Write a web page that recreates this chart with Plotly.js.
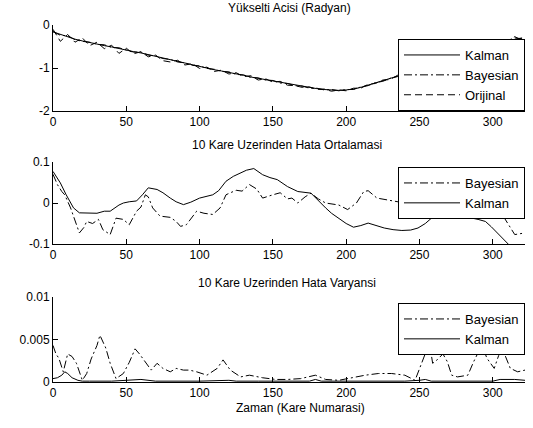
<!DOCTYPE html>
<html>
<head>
<meta charset="utf-8">
<script src="https://cdn.plot.ly/plotly-3.0.1.min.js"></script>
<style>html,body{margin:0;padding:0;background:#fff;}#chart{width:533px;height:428px;}</style>
</head>
<body>
<div id="chart"></div>
<script>
// ---------- Subplot 1: Yükselti Acisi (Radyan) ----------
var frames1 = [0,5,10,15,20,25,30,35,40,45,50,55,60,65,70,75,80,85,90,95,100,105,110,115,120,125,130,135,140,145,150,155,160,165,170,175,180,185,190,195,200,205,210,215,220,225,230,235,240,245,250,255,260,265,270,275,280,285,290,295,300,305,310,315,320];
var kalman1 = [-0.16,-0.22,-0.28,-0.33,-0.37,-0.41,-0.44,-0.48,-0.51,-0.55,-0.58,-0.62,-0.65,-0.69,-0.73,-0.77,-0.81,-0.85,-0.89,-0.93,-0.96,-1.00,-1.04,-1.07,-1.10,-1.14,-1.17,-1.21,-1.24,-1.27,-1.30,-1.34,-1.37,-1.40,-1.43,-1.46,-1.48,-1.50,-1.51,-1.52,-1.51,-1.49,-1.45,-1.40,-1.35,-1.30,-1.25,-1.19,-1.13,-1.07,-1.01,-0.95,-0.89,-0.83,-0.77,-0.71,-0.65,-0.60,-0.55,-0.50,-0.45,-0.41,-0.37,-0.33,-0.30];
var bayes1 = [-0.15,-0.24,-0.25,-0.34,-0.38,-0.40,-0.45,-0.46,-0.52,-0.53,-0.58,-0.63,-0.63,-0.70,-0.72,-0.78,-0.80,-0.86,-0.88,-0.94,-0.95,-1.01,-1.03,-1.08,-1.09,-1.15,-1.16,-1.22,-1.23,-1.28,-1.29,-1.35,-1.36,-1.41,-1.42,-1.47,-1.47,-1.51,-1.50,-1.53,-1.50,-1.50,-1.44,-1.41,-1.34,-1.31,-1.24,-1.20,-1.12,-1.08,-1.00,-0.96,-0.88,-0.84,-0.76,-0.72,-0.64,-0.61,-0.54,-0.51,-0.44,-0.42,-0.36,-0.30,-0.32];
var orig1 = [-0.10,-0.38,-0.22,-0.40,-0.30,-0.48,-0.40,-0.55,-0.47,-0.66,-0.54,-0.67,-0.62,-0.74,-0.70,-0.83,-0.86,-0.82,-0.93,-0.90,-1.01,-0.98,-1.08,-1.05,-1.14,-1.11,-1.20,-1.18,-1.28,-1.25,-1.33,-1.31,-1.40,-1.41,-1.45,-1.44,-1.50,-1.49,-1.54,-1.51,-1.53,-1.47,-1.47,-1.38,-1.36,-1.28,-1.27,-1.17,-1.15,-1.05,-1.03,-0.93,-0.91,-0.81,-0.79,-0.69,-0.67,-0.58,-0.57,-0.48,-0.47,-0.39,-0.40,-0.27,-0.36];

// ---------- Subplot 2: 10 Kare Uzerinden Hata Ortalamasi ----------
var kalX2 = [0,5,9,14,18,27,30,35,39,45,48,52,57,61,65,71,75,80,84,89,94,100,109,113,118,123,128,132,137,143,148,153,160,167,176,181,186,190,195,200,205,210,215,220,226,232,238,244,249,254,258,262,267,271,276,281,286,290,295,299,304,307,311,316,322];
var kalY2 = [0.077,0.049,0.02,-0.012,-0.024,-0.024,-0.025,-0.02,-0.02,-0.005,0.0,0.003,0.005,0.02,0.037,0.033,0.025,0.012,0.003,-0.004,0.002,0.012,0.02,0.03,0.053,0.065,0.073,0.08,0.084,0.069,0.062,0.057,0.04,0.028,0.024,0.005,-0.012,-0.025,-0.037,-0.05,-0.059,-0.055,-0.049,-0.055,-0.061,-0.065,-0.067,-0.066,-0.061,-0.05,-0.037,-0.025,-0.02,-0.022,-0.028,-0.033,-0.037,-0.04,-0.045,-0.058,-0.077,-0.09,-0.105,-0.12,-0.13];
var bayX2 = [0,3,6,8,12,15,18,21,23,27,31,34,39,43,48,52,57,60,63,65,68,73,80,84,87,91,95,98,103,109,114,118,121,125,129,134,139,143,150,155,160,163,167,172,176,181,186,195,201,207,212,215,221,225,232,240,249,258,268,280,292,300,308,315,322];
var bayY2 = [0.07,0.045,0.028,0.02,-0.012,-0.04,-0.073,-0.06,-0.045,-0.05,-0.04,-0.065,-0.077,-0.037,-0.04,-0.053,-0.02,-0.01,0.02,0.015,-0.012,-0.032,-0.035,-0.045,-0.057,-0.053,-0.035,-0.02,-0.025,-0.028,-0.012,0.02,0.025,0.031,0.029,0.045,0.034,0.012,0.02,0.025,0.01,0.012,0.0,0.015,0.024,0.01,0.0,-0.005,-0.016,0.0,0.028,0.03,0.012,0.01,0.005,0.0,-0.03,0.005,0.02,0.015,0.005,0.0,-0.037,-0.077,-0.073];

// ---------- Subplot 3: 10 Kare Uzerinden Hata Varyansi ----------
var bayX3 = [0,2,4,7,10,13,16,20,23,26,30,32,36,39,43,48,52,56,59,64,67,71,75,80,84,89,93,98,105,112,116,121,128,134,143,152,160,169,179,186,195,204,213,222,231,240,247,251,255,257,259,262,266,269,272,276,283,287,291,293,296,301,304,306,308,312,317,322];
var bayY3 = [0.0043,0.0033,0.0028,0.0012,0.0033,0.003,0.0022,0.0002,0.001,0.0027,0.0043,0.0055,0.004,0.0022,0.0004,0.001,0.0023,0.0039,0.0033,0.0022,0.0014,0.0022,0.0016,0.0012,0.0016,0.0014,0.0014,0.0012,0.0008,0.0016,0.0026,0.0014,0.0006,0.0008,0.0005,0.0003,0.0003,0.0004,0.0008,0.0003,0.0002,0.0005,0.0008,0.001,0.001,0.0008,0.0002,0.002,0.0038,0.0044,0.0022,0.0026,0.0033,0.0024,0.0008,0.0006,0.0008,0.0024,0.0038,0.0042,0.0028,0.0016,0.0031,0.0037,0.0033,0.0016,0.0012,0.0014];
var kalX3 = [0,3,6,8,10,13,17,20,25,40,50,60,70,80,100,120,125,140,160,175,179,183,200,220,240,250,254,258,270,290,300,305,315,322];
var kalY3 = [0.0004,0.0005,0.0008,0.0012,0.001,0.0005,0.0002,0.0001,0.0001,0.0001,0.0002,0.0003,0.0001,0.0001,0.0001,0.0002,0.0001,0.0001,0.0001,0.0001,0.0003,0.0001,0.0001,0.0001,0.0001,0.0002,0.0003,0.0001,0.0001,0.0001,0.0001,0.0003,0.0003,0.0002];

// ---------- Text ----------
var titles = ["Yükselti Acisi (Radyan)", "10 Kare Uzerinden Hata Ortalamasi", "10 Kare Uzerinden Hata Varyansi"];
var xTitle = "Zaman (Kare Numarasi)";
var xTicks = [0,50,100,150,200,250,300];
var yTicks1 = [0,-1,-2], yTickText1 = ["0","-1","-2"];
var yTicks2 = [0.1,0,-0.1], yTickText2 = ["0.1","0","-0.1"];
var yTicks3 = [0.01,0.005,0], yTickText3 = ["0.01","0.005","0"];

var FONT = "Liberation Sans, Arial, Helvetica, sans-serif";
var DASH = "7px,4px";
var DASHDOT = "8px,3px,2px,3px";

function ln(dash){ return {color:"#000", width:1, dash:dash}; }

var traces = [
  {x:frames1, y:kalman1, name:"Kalman", mode:"lines", line:ln("solid"), xaxis:"x", yaxis:"y", legend:"legend"},
  {x:frames1, y:bayes1, name:"Bayesian", mode:"lines", line:ln(DASHDOT), xaxis:"x", yaxis:"y", legend:"legend"},
  {x:frames1, y:orig1, name:"Orijinal", mode:"lines", line:ln(DASH), xaxis:"x", yaxis:"y", legend:"legend"},
  {x:bayX2, y:bayY2, name:"Bayesian", mode:"lines", line:ln(DASHDOT), xaxis:"x2", yaxis:"y2", legend:"legend2"},
  {x:kalX2, y:kalY2, name:"Kalman", mode:"lines", line:ln("solid"), xaxis:"x2", yaxis:"y2", legend:"legend2"},
  {x:bayX3, y:bayY3, name:"Bayesian", mode:"lines", line:ln(DASHDOT), xaxis:"x3", yaxis:"y3", legend:"legend3"},
  {x:kalX3, y:kalY3, name:"Kalman", mode:"lines", line:ln("solid"), xaxis:"x3", yaxis:"y3", legend:"legend3"}
];

var W = 533, H = 428;
function py(p){ return 1 - p/H; }
function px(p){ return p/W; }

function xax(anchor){
  return {domain:[px(53), px(525)], anchor:anchor, range:[0,322], tickmode:"array", tickvals:xTicks,
    ticks:"inside", ticklen:5, tickcolor:"#000", showline:true, linecolor:"#000", linewidth:1,
    showgrid:false, zeroline:false, tickfont:{family:FONT, size:12, color:"#000"}, fixedrange:true};
}
function yax(anchor, dom, rng, tv, tt){
  return {domain:dom, anchor:anchor, range:rng, tickmode:"array", tickvals:tv, ticktext:tt,
    ticks:"inside", ticklen:5, tickcolor:"#000", showline:true, linecolor:"#000", linewidth:1,
    showgrid:false, zeroline:false, tickfont:{family:FONT, size:12, color:"#000"}, fixedrange:true};
}
function leg(topPx){
  return {x:px(525), xanchor:"right", y:py(topPx), yanchor:"top", bgcolor:"#fff", bordercolor:"#000", borderwidth:1,
    font:{family:FONT, size:13, color:"#000"}, itemwidth:56, tracegroupgap:0, traceorder:"normal"};
}

var layout = {
  width:W, height:H, margin:{l:0,r:0,t:0,b:0}, paper_bgcolor:"#fff", plot_bgcolor:"#fff",
  showlegend:true, font:{family:FONT, size:12, color:"#000"},
  xaxis:xax("y"), xaxis2:xax("y2"), xaxis3:xax("y3"),
  yaxis:yax("x", [py(111), py(25)], [-2,0], yTicks1, yTickText1),
  yaxis2:yax("x2", [py(244), py(162)], [-0.1,0.1], yTicks2, yTickText2),
  yaxis3:yax("x3", [py(382), py(297)], [0,0.01], yTicks3, yTickText3),
  legend:leg(39), legend2:leg(167), legend3:leg(303),
  annotations:[
    {text:titles[0], xref:"paper", yref:"paper", x:px(289), y:py(8), xanchor:"center", yanchor:"middle", showarrow:false, font:{family:FONT, size:12, color:"#000"}},
    {text:titles[1], xref:"paper", yref:"paper", x:px(287), y:py(145), xanchor:"center", yanchor:"middle", showarrow:false, font:{family:FONT, size:12, color:"#000"}},
    {text:titles[2], xref:"paper", yref:"paper", x:px(287), y:py(283), xanchor:"center", yanchor:"middle", showarrow:false, font:{family:FONT, size:12, color:"#000"}},
    {text:xTitle, xref:"paper", yref:"paper", x:px(300), y:py(408), xanchor:"center", yanchor:"middle", showarrow:false, font:{family:FONT, size:12, color:"#000"}}
  ]
};

Plotly.newPlot("chart", traces, layout, {staticPlot:true, displayModeBar:false});
</script>
</body>
</html>
